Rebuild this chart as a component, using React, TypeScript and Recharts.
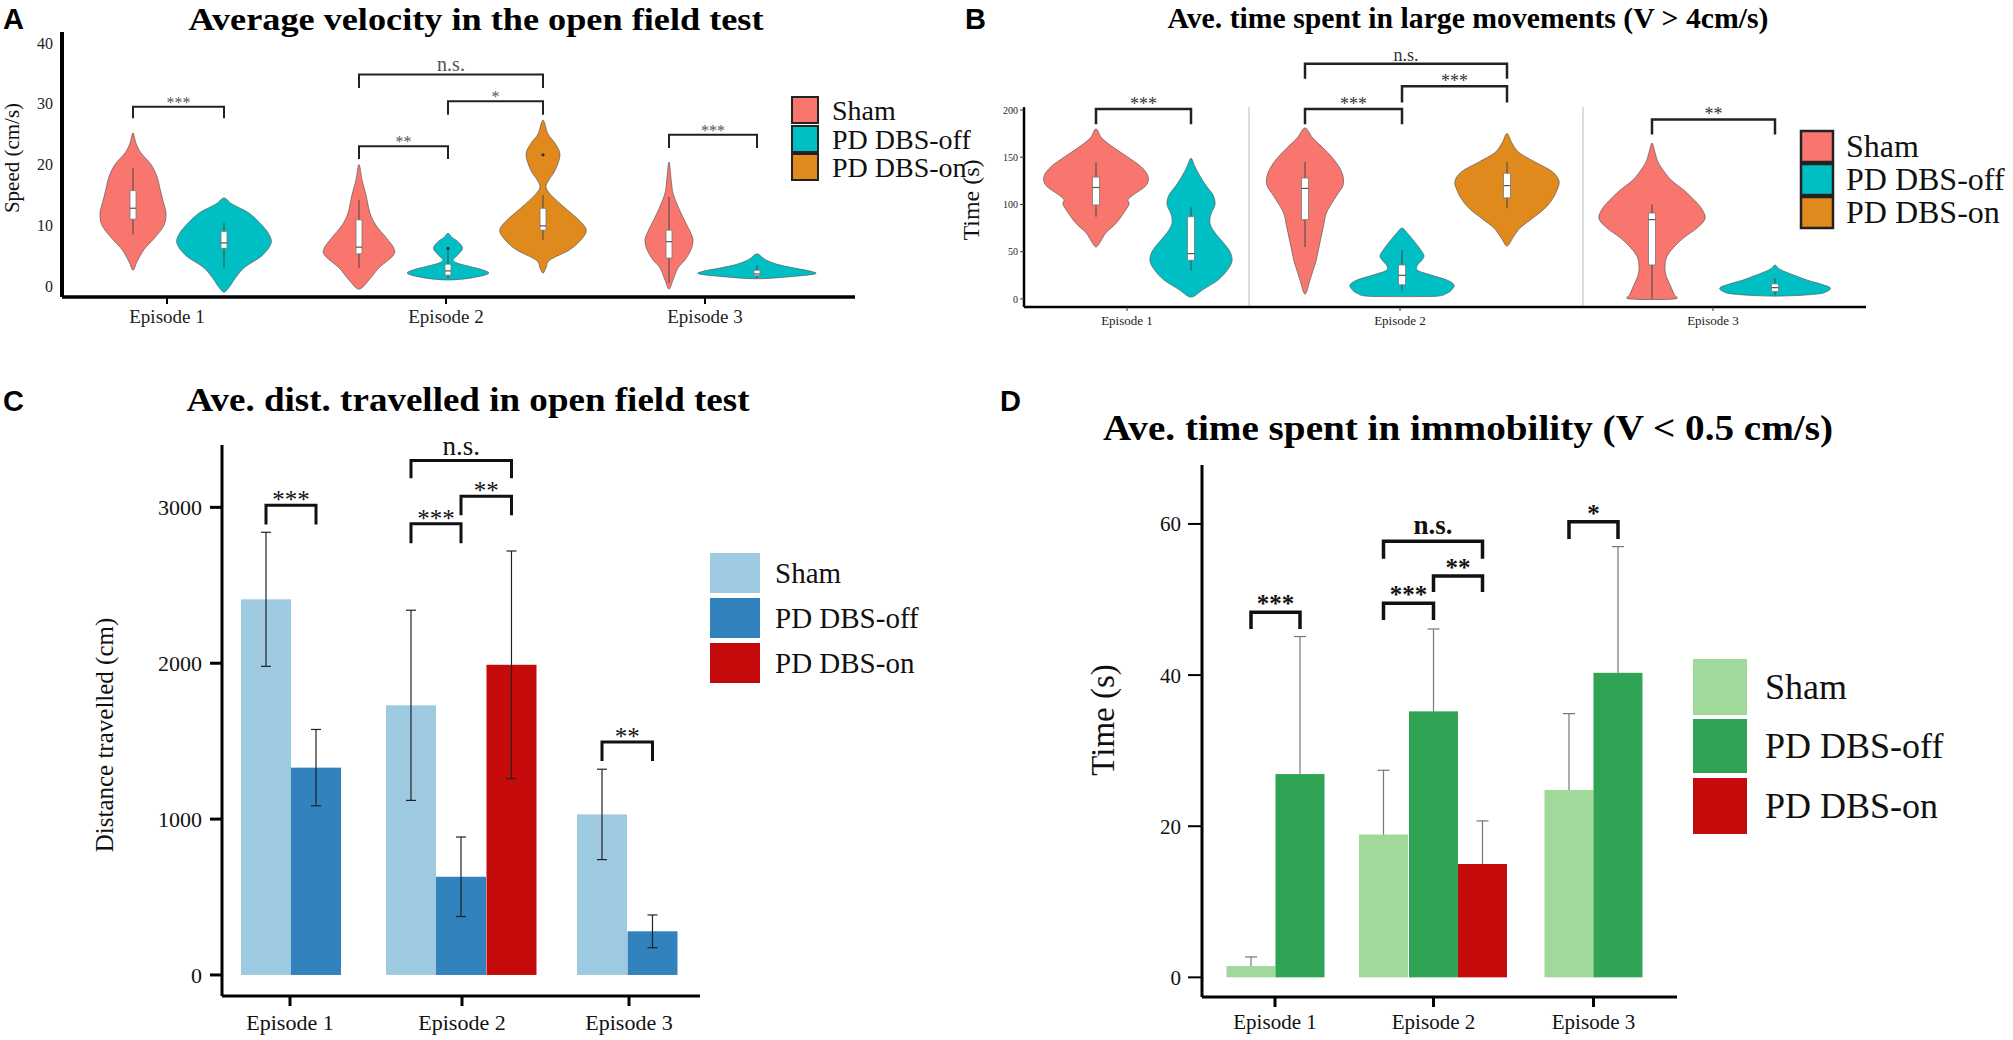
import React from "react";
import {
  ComposedChart,
  XAxis,
  YAxis,
  Scatter,
  Bar,
  Cell,
  ErrorBar,
  ReferenceLine,
} from "recharts";

const SERIF = '"Liberation Serif", "Times New Roman", serif';
const SANS = '"Liberation Sans", Arial, sans-serif';

const EPISODES = ["Episode 1", "Episode 2", "Episode 3"];
const GROUPS = ["Sham", "PD DBS-off", "PD DBS-on"];

// ---------- A: average velocity (violins) ----------
// profile = [value, half width in x units], box = [whisker lo, q1, median, q3, whisker hi]
type Violin = { profile: [number, number][]; box: number[]; dots?: number[] } | null;

const A_SHAM: Violin[] = [
  { profile: [[2.6, 0], [4, 0.04], [6, 0.11], [8, 0.22], [10, 0.31], [12, 0.33], [14, 0.3], [16, 0.27], [18, 0.24], [20, 0.18], [21.9, 0.08], [23.5, 0.03], [25.2, 0]], box: [8.5, 11, 12.8, 15.7, 19.4] },
  { profile: [[-0.5, 0], [1, 0.1], [3, 0.2], [5, 0.34], [6.2, 0.35], [8, 0.27], [10, 0.17], [12, 0.11], [15, 0.07], [17.5, 0.03], [20, 0]], box: [3, 5.3, 6.4, 10.9, 14.2] },
  { profile: [[-0.5, 0], [1, 0.04], [3, 0.09], [4.3, 0.16], [6, 0.22], [7.6, 0.24], [9, 0.21], [10, 0.18], [12, 0.12], [15, 0.045], [17, 0.025], [20.4, 0]], box: [0.5, 4.6, 7.3, 9.2, 14.7] },
];
const A_OFF: Violin[] = [
  { profile: [[-1, 0], [0, 0.06], [1, 0.1], [3, 0.2], [5, 0.38], [7, 0.47], [8.5, 0.45], [10, 0.38], [12, 0.25], [13.5, 0.08], [14.5, 0]], box: [3, 6.2, 7.1, 9, 10.4] },
  { profile: [[1, 0], [1.3, 0.22], [2, 0.4], [2.6, 0.36], [3.2, 0.22], [3.8, 0.09], [4.3, 0.05], [5, 0.09], [6.2, 0.145], [7.3, 0.1], [8, 0.04], [8.7, 0]], box: [1.3, 1.8, 2.5, 3.6, 5.8], dots: [6.2] },
  { profile: [[1.2, 0], [1.5, 0.3], [2, 0.58], [2.5, 0.52], [3, 0.36], [3.5, 0.22], [4, 0.13], [4.5, 0.07], [5.3, 0]], box: [1.3, 1.7, 2.0, 2.6, 3.4] },
];
const A_ON: Violin[] = [
  null,
  { profile: [[2.1, 0], [3, 0.03], [4.3, 0.07], [6, 0.27], [8, 0.4], [9.4, 0.43], [11, 0.35], [13, 0.21], [15, 0.08], [16.3, 0.03], [17.5, 0.06], [19, 0.12], [21.6, 0.17], [23.5, 0.12], [25, 0.05], [27.3, 0]], box: [7.6, 9.2, 9.9, 12.8, 15], dots: [21.6] },
  null,
];
const A_TICKS = [0, 10, 20, 30, 40];

// ---------- B: time in large movements (violins) ----------
const B_SHAM: Violin[] = [
  { profile: [[55, 0], [60, 0.04], [70, 0.1], [80, 0.2], [90, 0.27], [100, 0.33], [105, 0.32], [110, 0.37], [120, 0.5], [130, 0.52], [140, 0.45], [150, 0.32], [160, 0.18], [170, 0.06], [180, 0]], box: [87, 99.5, 118, 129, 145] },
  { profile: [[5, 0], [20, 0.05], [30, 0.08], [40, 0.11], [50, 0.13], [60, 0.15], [70, 0.17], [80, 0.19], [90, 0.21], [100, 0.26], [110, 0.32], [120, 0.38], [130, 0.38], [140, 0.34], [150, 0.27], [160, 0.18], [170, 0.08], [181, 0]], box: [55, 84, 117, 128, 145] },
  { profile: [[0, 0.22], [5, 0.22], [15, 0.18], [25, 0.14], [35, 0.13], [45, 0.15], [55, 0.22], [65, 0.32], [75, 0.45], [85, 0.53], [95, 0.5], [105, 0.42], [115, 0.32], [125, 0.2], [135, 0.12], [145, 0.06], [155, 0.03], [165, 0]], box: [0, 36, 84, 91, 100] },
];
const B_OFF: Violin[] = [
  { profile: [[2, 0], [10, 0.12], [20, 0.27], [30, 0.36], [40, 0.41], [50, 0.39], [60, 0.32], [70, 0.24], [80, 0.19], [90, 0.2], [100, 0.24], [110, 0.22], [120, 0.15], [130, 0.09], [140, 0.04], [149, 0]], box: [30, 41, 48, 87, 97] },
  { profile: [[2.5, 0], [3, 0.35], [6, 0.45], [10, 0.5], [15, 0.52], [20, 0.45], [25, 0.3], [30, 0.16], [35, 0.15], [40, 0.19], [45, 0.22], [50, 0.2], [60, 0.13], [70, 0.05], [75, 0]], box: [8, 15, 25, 36, 52] },
  { profile: [[3, 0], [5, 0.4], [8, 0.52], [12, 0.55], [16, 0.45], [20, 0.32], [24, 0.22], [28, 0.12], [32, 0.04], [36, 0]], box: [4, 8, 12, 16, 22] },
];
const B_ON: Violin[] = [
  null,
  { profile: [[56, 0], [65, 0.06], [75, 0.13], [85, 0.25], [95, 0.37], [105, 0.45], [115, 0.5], [125, 0.52], [135, 0.45], [145, 0.28], [155, 0.12], [165, 0.05], [175, 0]], box: [96, 107, 120, 133, 145] },
  null,
];
const B_TICKS = [0, 50, 100, 150, 200];

// ---------- C: distance travelled (bars) ----------
const C_SHAM = [2410, 1730, 1030];
const C_OFF = [1330, 630, 280];
const C_ON = [null, 1990, null];
const C_SHAM_ERR = [430, 610, 290];
const C_OFF_ERR = [245, 255, 105];
const C_ON_ERR = [null, 730, null];
const C_TICKS = [0, 1000, 2000, 3000];

// ---------- D: time in immobility (bars) ----------
const D_SHAM = [1.5, 18.9, 24.8];
const D_OFF = [26.9, 35.2, 40.3];
const D_ON = [null, 15.0, null];
const D_SHAM_ERR = [1.2, 8.5, 10.1];
const D_OFF_ERR = [18.2, 10.9, 16.7];
const D_ON_ERR = [null, 5.7, null];
const D_TICKS = [0, 20, 40, 60];

// significance brackets: episode index, groups, bracket top / leg end (data units)
type Bracket = { ep: number; from: string; to: string; top: number; leg: number; label: string };
const A_BRACKETS: Bracket[] = [
  { ep: 0, from: "Sham", to: "PD DBS-off", top: 29.5, leg: 27.6, label: "***" },
  { ep: 1, from: "Sham", to: "PD DBS-off", top: 23, leg: 20.9, label: "**" },
  { ep: 1, from: "PD DBS-off", to: "PD DBS-on", top: 30.4, leg: 28.2, label: "*" },
  { ep: 1, from: "Sham", to: "PD DBS-on", top: 34.8, leg: 32.6, label: "n.s." },
  { ep: 2, from: "Sham", to: "PD DBS-off", top: 24.9, leg: 22.7, label: "***" },
];
const B_BRACKETS: Bracket[] = [
  { ep: 0, from: "Sham", to: "PD DBS-off", top: 201, leg: 185, label: "***" },
  { ep: 1, from: "Sham", to: "PD DBS-off", top: 201, leg: 185, label: "***" },
  { ep: 1, from: "PD DBS-off", to: "PD DBS-on", top: 225, leg: 208, label: "***" },
  { ep: 1, from: "Sham", to: "PD DBS-on", top: 249, leg: 233, label: "n.s." },
  { ep: 2, from: "Sham", to: "PD DBS-off", top: 190, leg: 174, label: "**" },
];
const C_BRACKETS: Bracket[] = [
  { ep: 0, from: "Sham", to: "PD DBS-off", top: 3013, leg: 2890, label: "***" },
  { ep: 1, from: "Sham", to: "PD DBS-off", top: 2894, leg: 2769, label: "***" },
  { ep: 1, from: "PD DBS-off", to: "PD DBS-on", top: 3071, leg: 2949, label: "**" },
  { ep: 1, from: "Sham", to: "PD DBS-on", top: 3301, leg: 3186, label: "n.s." },
  { ep: 2, from: "Sham", to: "PD DBS-off", top: 1494, leg: 1372, label: "**" },
];
const D_BRACKETS: Bracket[] = [
  { ep: 0, from: "Sham", to: "PD DBS-off", top: 48.3, leg: 46.1, label: "***" },
  { ep: 1, from: "Sham", to: "PD DBS-off", top: 49.5, leg: 47.3, label: "***" },
  { ep: 1, from: "PD DBS-off", to: "PD DBS-on", top: 53.1, leg: 51.0, label: "**" },
  { ep: 1, from: "Sham", to: "PD DBS-on", top: 57.7, leg: 55.4, label: "n.s." },
  { ep: 2, from: "Sham", to: "PD DBS-off", top: 60.3, leg: 58.0, label: "*" },
];

// ---------- layout (x slots in axis units) ----------
const A_SLOT: Record<string, (number | null)[]> = {
  Sham: [1.33, 3.59, 6.69],
  "PD DBS-off": [2.24, 4.48, 7.57],
  "PD DBS-on": [null, 5.43, null],
};
const A_EP_X = [1.67, 4.46, 7.05];
const B_SLOT: Record<string, (number | null)[]> = {
  Sham: [0.96, 3.05, 6.52],
  "PD DBS-off": [1.91, 4.02, 7.75],
  "PD DBS-on": [null, 5.07, null],
};
const B_EP_X = [1.27, 4.0, 7.13];
const B_FACETS = [2.49, 5.83];
const C_SLOT: Record<string, (number | null)[]> = {
  Sham: [2.66, 4.11, 6.02],
  "PD DBS-off": [3.16, 4.61, 6.525],
  "PD DBS-on": [null, 5.115, null],
};
const C_EP_X = [2.9, 4.62, 6.29];
const D_SLOT: Record<string, (number | null)[]> = {
  Sham: [2.51, 3.835, 5.69],
  "PD DBS-off": [3.0, 4.335, 6.18],
  "PD DBS-on": [null, 4.825, null],
};
const D_EP_X = [2.75, 4.335, 5.935];

const VIOLIN_COLORS: Record<string, string> = {
  Sham: "#F8766D",
  "PD DBS-off": "#00BFC4",
  "PD DBS-on": "#E08A1E",
};
const C_COLORS: Record<string, string> = { Sham: "#9ECAE1", "PD DBS-off": "#3182BD", "PD DBS-on": "#C40A0A" };
const D_COLORS: Record<string, string> = { Sham: "#A1D99B", "PD DBS-off": "#31A354", "PD DBS-on": "#C40A0A" };

type Pt = { x: number; y: number };

function smoothClosed(pts: Pt[]) {
  const n = pts.length;
  let d = `M${pts[0].x},${pts[0].y}`;
  for (let i = 0; i < n; i++) {
    const p0 = pts[(i - 1 + n) % n];
    const p1 = pts[i];
    const p2 = pts[(i + 1) % n];
    const p3 = pts[(i + 2) % n];
    const c1x = p1.x + (p2.x - p0.x) / 6;
    const c1y = p1.y + (p2.y - p0.y) / 6;
    const c2x = p2.x - (p3.x - p1.x) / 6;
    const c2y = p2.y - (p3.y - p1.y) / 6;
    d += ` C${c1x},${c1y} ${c2x},${c2y} ${p2.x},${p2.y}`;
  }
  return d + " Z";
}

const pathLine =
  (stroke: string, width: number, fill = "none", smooth = false, closed = false) =>
  (props: any) => {
    const pts: Pt[] = (props.points || []).filter(
      (p: Pt) => Number.isFinite(p.x) && Number.isFinite(p.y)
    );
    if (pts.length < 2) return <g />;
    const d = smooth
      ? smoothClosed(pts)
      : pts.map((p, i) => `${i ? "L" : "M"}${p.x},${p.y}`).join(" ") + (closed ? " Z" : "");
    return <path d={d} fill={fill} stroke={stroke} strokeWidth={width} />;
  };

const noDot = () => <g />;

function violinOutline(cx: number, profile: [number, number][]) {
  const right = profile.map(([v, w]) => ({ x: cx + w, y: v }));
  const left = profile
    .filter(([, w]) => w > 0)
    .map(([v, w]) => ({ x: cx - w, y: v }))
    .reverse();
  return [...right, ...left];
}

function violinSeries(id: string, cx: number, vio: NonNullable<Violin>, color: string, bh: number) {
  const [lo, q1, med, q3, hi] = vio.box;
  return [
    <Scatter key={id + "body"} data={violinOutline(cx, vio.profile)} shape={noDot} line={pathLine("#5a5a5a", 0.7, color, true)} lineType="joint" isAnimationActive={false} />,
    <Scatter key={id + "wh"} data={[{ x: cx, y: lo }, { x: cx, y: hi }]} shape={noDot} line={pathLine("#444", 1)} lineType="joint" isAnimationActive={false} />,
    <Scatter key={id + "box"} data={[{ x: cx - bh, y: q1 }, { x: cx + bh, y: q1 }, { x: cx + bh, y: q3 }, { x: cx - bh, y: q3 }]} shape={noDot} line={pathLine("#777", 0.8, "#ffffff", false, true)} lineType="joint" isAnimationActive={false} />,
    <Scatter key={id + "med"} data={[{ x: cx - bh, y: med }, { x: cx + bh, y: med }]} shape={noDot} line={pathLine("#555", 1.2)} lineType="joint" isAnimationActive={false} />,
    ...(vio.dots || []).map((d, i) => (
      <Scatter key={id + "dot" + i} data={[{ x: cx, y: d }]} shape={(p: any) => <circle cx={p.cx} cy={p.cy} r={1.6} fill="#333" />} isAnimationActive={false} />
    )),
  ];
}

function violinsFor(panel: string, sets: Violin[][], slot: Record<string, (number | null)[]>, bh: number) {
  const out: React.ReactNode[] = [];
  GROUPS.forEach((g, gi) => {
    sets[gi].forEach((vio, ei) => {
      const cx = slot[g][ei];
      if (vio && cx != null) out.push(...violinSeries(`${panel}-${gi}-${ei}-`, cx, vio, VIOLIN_COLORS[g], bh));
    });
  });
  return out;
}

type BStyle = { stroke: string; width: number; font: number; nsFont: number; fill: string; bold: boolean; starDy: number; nsDy: number };

function bracketSeries(panel: string, list: Bracket[], slot: Record<string, (number | null)[]>, st: BStyle) {
  return list.flatMap((b, i) => {
    const x1 = slot[b.from][b.ep] as number;
    const x2 = slot[b.to][b.ep] as number;
    const ns = b.label === "n.s.";
    return [
      <Scatter key={`${panel}br${i}`} data={[{ x: x1, y: b.leg }, { x: x1, y: b.top }, { x: x2, y: b.top }, { x: x2, y: b.leg }]} shape={noDot} line={pathLine(st.stroke, st.width)} lineType="joint" isAnimationActive={false} />,
      <Scatter
        key={`${panel}lb${i}`}
        data={[{ x: (x1 + x2) / 2, y: b.top }]}
        isAnimationActive={false}
        shape={(p: any) => (
          <text x={p.cx} y={p.cy + (ns ? st.nsDy : st.starDy)} textAnchor="middle" fontFamily={SERIF} fontSize={ns ? st.nsFont : st.font} fontWeight={st.bold ? 700 : 400} fill={st.fill}>
            {b.label}
          </text>
        )}
      />,
    ];
  });
}

type BarRow = { x: number; y: number; err: number; color: string };

function barRows(vals: (number | null)[][], errs: (number | null)[][], slot: Record<string, (number | null)[]>, colors: Record<string, string>) {
  const rows: BarRow[] = [];
  EPISODES.forEach((_, ei) => {
    GROUPS.forEach((g, gi) => {
      const v = vals[gi][ei];
      const e = errs[gi][ei];
      const x = slot[g][ei];
      if (v != null && e != null && x != null) rows.push({ x, y: v, err: e, color: colors[g] });
    });
  });
  return rows;
}

// upper-only error bars (stem from the bar top plus a cap)
function upperErrorSeries(panel: string, rows: BarRow[], capHalf: number, stroke: string) {
  return rows.flatMap((r, i) => [
    <Scatter key={`${panel}es${i}`} data={[{ x: r.x, y: r.y }, { x: r.x, y: r.y + r.err }]} shape={noDot} line={pathLine(stroke, 1.2)} lineType="joint" isAnimationActive={false} />,
    <Scatter key={`${panel}ec${i}`} data={[{ x: r.x - capHalf, y: r.y + r.err }, { x: r.x + capHalf, y: r.y + r.err }]} shape={noDot} line={pathLine(stroke, 1.2)} lineType="joint" isAnimationActive={false} />,
  ]);
}

// bars on a numeric axis: keep the library's x/y/height, fix the drawn width around the centre
const barShape = (w: number) => (p: any) =>
  <rect x={p.x + p.width / 2 - w / 2} y={p.y} width={w} height={Math.max(0, p.height)} fill={p.fill} />;

const epFormatter = (_: any, i: number) => EPISODES[i];

function PanelA() {
  return (
    <ComposedChart width={870} height={340} margin={{ top: 32, right: 15, bottom: 0, left: 0 }}>
      <XAxis type="number" dataKey="x" domain={[0.62, 8.55]} ticks={A_EP_X} tickFormatter={epFormatter} height={43} axisLine={{ stroke: "#000", strokeWidth: 3.5 }} tickLine={{ stroke: "#000", strokeWidth: 2 }} tickSize={7} tickMargin={6} tick={{ fontFamily: SERIF, fontSize: 19, fill: "#222" }} />
      <YAxis type="number" dataKey="y" domain={[-1.8, 41.8]} ticks={A_TICKS} width={62} axisLine={{ stroke: "#000", strokeWidth: 4 }} tickLine={false} tickSize={0} tickMargin={9} tick={{ fontFamily: SERIF, fontSize: 16, fill: "#222" }} />
      {violinsFor("A", [A_SHAM, A_OFF, A_ON], A_SLOT, 0.03)}
      {bracketSeries("A", A_BRACKETS, A_SLOT, { stroke: "#222", width: 2, font: 16, nsFont: 20, fill: "#555", bold: false, starDy: 1, nsDy: -4 })}
    </ComposedChart>
  );
}

function PanelB() {
  return (
    <ComposedChart width={900} height={340} margin={{ top: 53.3, right: 4, bottom: 0, left: 0 }}>
      <XAxis type="number" dataKey="x" domain={[0.24, 8.66]} ticks={B_EP_X} tickFormatter={epFormatter} height={33} axisLine={{ stroke: "#000", strokeWidth: 2.5 }} tickLine={{ stroke: "#333", strokeWidth: 1 }} tickSize={4} tickMargin={5} tick={{ fontFamily: SERIF, fontSize: 13, fill: "#222" }} />
      <YAxis type="number" dataKey="y" domain={[-8.5, 260]} ticks={B_TICKS} width={54} axisLine={false} tickLine={{ stroke: "#333", strokeWidth: 1 }} tickSize={4} tickMargin={2} tick={{ fontFamily: SERIF, fontSize: 10, fill: "#222" }} />
      <ReferenceLine segment={[{ x: 0.24, y: -8.5 }, { x: 0.24, y: 203 }]} stroke="#000" strokeWidth={2.5} />
      {B_FACETS.map((fx) => (
        <ReferenceLine key={fx} segment={[{ x: fx, y: -8.5 }, { x: fx, y: 203 }]} stroke="#bdbdbd" strokeWidth={1} />
      ))}
      {violinsFor("B", [B_SHAM, B_OFF, B_ON], B_SLOT, 0.035)}
      {bracketSeries("B", B_BRACKETS, B_SLOT, { stroke: "#222", width: 2.5, font: 18, nsFont: 18, fill: "#333", bold: false, starDy: 1, nsDy: -3 })}
    </ComposedChart>
  );
}

const C_ROWS = barRows([C_SHAM, C_OFF, C_ON], [C_SHAM_ERR, C_OFF_ERR, C_ON_ERR], C_SLOT, C_COLORS);
const D_ROWS = barRows([D_SHAM, D_OFF, D_ON], [D_SHAM_ERR, D_OFF_ERR, D_ON_ERR], D_SLOT, D_COLORS);

function PanelC() {
  return (
    <ComposedChart width={710} height={660} data={C_ROWS} margin={{ top: 65, right: 10, bottom: 0, left: 0 }}>
      <XAxis type="number" dataKey="x" domain={[2.22, 7.0]} ticks={C_EP_X} tickFormatter={epFormatter} height={44} axisLine={{ stroke: "#000", strokeWidth: 3 }} tickLine={{ stroke: "#000", strokeWidth: 3 }} tickSize={10} tickMargin={8} tick={{ fontFamily: SERIF, fontSize: 22, fill: "#111" }} />
      <YAxis type="number" dataKey="y" domain={[-135, 3400]} ticks={C_TICKS} width={222} axisLine={{ stroke: "#000", strokeWidth: 3 }} tickLine={{ stroke: "#000", strokeWidth: 3 }} tickSize={12} tickMargin={8} tick={{ fontFamily: SERIF, fontSize: 22, fill: "#111" }} />
      <Bar dataKey="y" barSize={50} shape={barShape(50)} isAnimationActive={false}>
        {C_ROWS.map((r, i) => (
          <Cell key={i} fill={r.color} />
        ))}
        <ErrorBar dataKey="err" width={5} stroke="#222" strokeWidth={1.2} direction="y" />
      </Bar>
      {bracketSeries("C", C_BRACKETS, C_SLOT, { stroke: "#111", width: 3, font: 25, nsFont: 27, fill: "#111", bold: false, starDy: 3, nsDy: -5 })}
    </ComposedChart>
  );
}

function PanelD() {
  return (
    <ComposedChart width={540} height={660} data={D_ROWS} margin={{ top: 85, right: 13, bottom: 0, left: 0 }}>
      <XAxis type="number" dataKey="x" domain={[2.02, 6.77]} ticks={D_EP_X} tickFormatter={epFormatter} height={43} axisLine={{ stroke: "#000", strokeWidth: 3 }} tickLine={{ stroke: "#000", strokeWidth: 3 }} tickSize={10} tickMargin={7} tick={{ fontFamily: SERIF, fontSize: 21, fill: "#111" }} />
      <YAxis type="number" dataKey="y" domain={[-2.6, 67.8]} ticks={D_TICKS} width={52} axisLine={{ stroke: "#000", strokeWidth: 3 }} tickLine={{ stroke: "#000", strokeWidth: 2 }} tickSize={14} tickMargin={7} tick={{ fontFamily: SERIF, fontSize: 21, fill: "#111" }} />
      <Bar dataKey="y" barSize={49} shape={barShape(49)} isAnimationActive={false}>
        {D_ROWS.map((r, i) => (
          <Cell key={i} fill={r.color} />
        ))}
      </Bar>
      {upperErrorSeries("D", D_ROWS, 0.06, "#777")}
      {bracketSeries("D", D_BRACKETS, D_SLOT, { stroke: "#111", width: 3.5, font: 25, nsFont: 27, fill: "#111", bold: true, starDy: 0, nsDy: -7 })}
    </ComposedChart>
  );
}

function Legend({ x, ys, w, hs, tx, font, colors, border }: { x: number; ys: number[]; w: number; hs: number[]; tx: number; font: number; colors: Record<string, string>; border: number }) {
  return (
    <g>
      {GROUPS.map((g, i) => (
        <g key={g}>
          <rect x={x} y={ys[i]} width={w} height={hs[i]} fill={colors[g]} stroke={border ? "#222" : "none"} strokeWidth={border} />
          <text x={tx} y={ys[i] + hs[i] / 2 + font * 0.34} fontFamily={SERIF} fontSize={font} fill="#111">
            {g}
          </text>
        </g>
      ))}
    </g>
  );
}

export default function App() {
  const letter = { fontFamily: SANS, fontWeight: 700, fontSize: 29, fill: "#000" } as const;
  const title = { fontFamily: SERIF, fontWeight: 700, fill: "#000", textAnchor: "middle" } as const;
  return (
    <div style={{ position: "absolute", left: 0, top: 0, width: 2013, height: 1040, background: "#fff", overflow: "hidden" }}>
      <div style={{ position: "absolute", left: 0, top: 0 }}>
        <PanelA />
      </div>
      <div style={{ position: "absolute", left: 970, top: 0 }}>
        <PanelB />
      </div>
      <div style={{ position: "absolute", left: 0, top: 380 }}>
        <PanelC />
      </div>
      <div style={{ position: "absolute", left: 1150, top: 380 }}>
        <PanelD />
      </div>
      <svg width={2013} height={1040} style={{ position: "absolute", left: 0, top: 0, pointerEvents: "none" }}>
        <text x={3} y={29} {...letter}>A</text>
        <text x={965} y={29} {...letter}>B</text>
        <text x={3} y={411} {...letter}>C</text>
        <text x={1000} y={411} {...letter}>D</text>

        <text x={476} y={30} fontSize={32} textLength={575} lengthAdjust="spacingAndGlyphs" {...title}>Average velocity in the open field test</text>
        <text x={1468} y={28} fontSize={29} textLength={601} lengthAdjust="spacingAndGlyphs" {...title}>Ave. time spent in large movements (V &gt; 4cm/s)</text>
        <text x={468} y={411} fontSize={33} textLength={563} lengthAdjust="spacingAndGlyphs" {...title}>Ave. dist. travelled in open field test</text>
        <text x={1468} y={440} fontSize={35} textLength={730} lengthAdjust="spacingAndGlyphs" {...title}>Ave. time spent in immobility (V &lt; 0.5 cm/s)</text>

        <text transform="translate(19,158) rotate(-90)" textAnchor="middle" fontFamily={SERIF} fontSize={21} fill="#111">Speed (cm/s)</text>
        <text transform="translate(979,200) rotate(-90)" textAnchor="middle" fontFamily={SERIF} fontSize={24} fill="#111">Time (s)</text>
        <text transform="translate(113,735) rotate(-90)" textAnchor="middle" fontFamily={SERIF} fontSize={25} fill="#111">Distance travelled (cm)</text>
        <text transform="translate(1114,720) rotate(-90)" textAnchor="middle" fontFamily={SERIF} fontSize={33} fill="#111">Time (s)</text>

        <Legend x={792} ys={[97, 126, 154]} w={26} hs={[26, 26, 26]} tx={832} font={28} colors={VIOLIN_COLORS} border={2} />
        <Legend x={1801} ys={[131, 164, 197]} w={32} hs={[31, 31, 31]} tx={1846} font={32} colors={VIOLIN_COLORS} border={2.5} />
        <Legend x={710} ys={[553, 598, 643]} w={50} hs={[40, 40, 40]} tx={775} font={29} colors={C_COLORS} border={0} />
        <Legend x={1693} ys={[659, 719, 778]} w={54} hs={[56, 54, 56]} tx={1765} font={36} colors={D_COLORS} border={0} />
      </svg>
    </div>
  );
}
